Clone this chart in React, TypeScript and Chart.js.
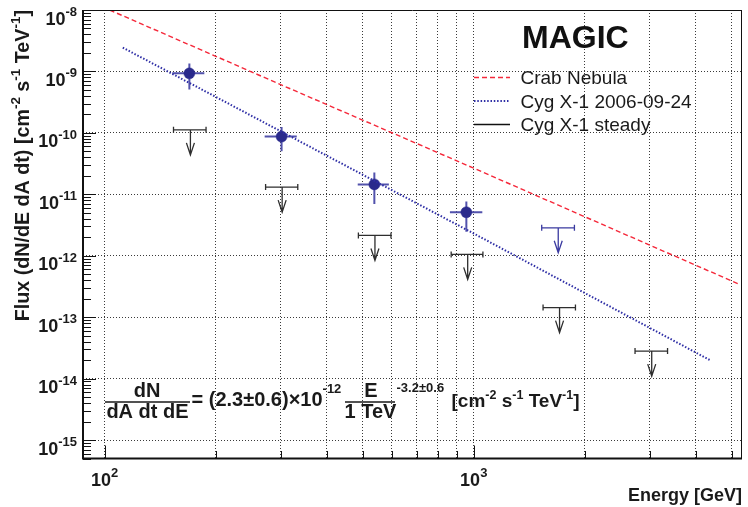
import React, { useEffect, useRef } from 'react';
import { Chart, registerables } from 'chart.js';

Chart.register(...registerables);

const FONT = '"Liberation Sans", Arial, Helvetica, sans-serif';

// Axis ranges (GeV, cm^-2 s^-1 TeV^-1)
const X_MIN = 87.4;
const X_MAX = 5330;
const Y_MIN = 5.0e-16;
const Y_MAX = 1e-8;

// Tick values / labels
const xTickValues = [100, 200, 300, 400, 500, 600, 700, 800, 900, 1000, 2000, 3000, 4000, 5000];
const xLabelValues = [100, 1000];
const xLabelExponents = ['2', '3'];
const yDecadeExponents = [-16, -15, -14, -13, -12, -11, -10, -9, -8];
const yMinorMultipliers = [1, 2, 3, 4, 5, 6, 7, 8, 9];
const yLabelValues = [1e-15, 1e-14, 1e-13, 1e-12, 1e-11, 1e-10, 1e-9, 1e-8];
const yLabelExponents = ['-15', '-14', '-13', '-12', '-11', '-10', '-9', '-8'];

// Crab Nebula reference spectrum (red dashed)
const crabE = [90, 300, 1000, 5200];
const crabFlux = [1.43e-8, 6.1e-10, 2.66e-11, 3.5e-13];

// Cyg X-1 2006-09-24 power-law fit (blue dotted)
const fitE = [112, 1000, 4375];
const fitFlux = [2.44e-9, 2.3e-12, 1.98e-14];

// Cyg X-1 2006-09-24 measured points
const flareE = [169.7, 301.6, 538, 955];
const flareFlux = [9.3e-10, 8.7e-11, 1.45e-11, 5.1e-12];
const flareELow = [152.5, 271.4, 485, 862];
const flareEHigh = [186.3, 331.6, 589, 1055];
const flareFluxLow = [5.1e-10, 5.0e-11, 6.97e-12, 2.45e-12];
const flareFluxHigh = [1.35e-9, 1.24e-10, 2.27e-11, 7.6e-12];

// Cyg X-1 2006-09-24 upper limit
const flareUlE = [1694];
const flareUlFlux = [2.85e-12];
const flareUlELow = [1528];
const flareUlEHigh = [1874];

// Cyg X-1 steady upper limits
const steadyE = [170.8, 302.7, 540, 963, 1708, 3035];
const steadyFlux = [1.12e-10, 1.31e-11, 2.14e-12, 1.05e-12, 1.43e-13, 2.8e-14];
const steadyELow = [153.7, 273, 487, 868.7, 1541, 2735];
const steadyEHigh = [188.3, 333.7, 596.7, 1059, 1886, 3350];

// Legend
const legendLabels = ['Crab Nebula', 'Cyg X-1 2006-09-24', 'Cyg X-1 steady'];

const RED = '#f5283a';
const BLUE_LINE = '#2f2fa6';
const BLUE_DOT = '#2a2a8c';
const BLUE_BAR = '#5252ac';
const BLUE_UL = '#3a3aa0';
const BLACK_UL = '#2e2e2e';
const GRID = '#3a3a3a';

const isDecade = (v: number) => {
  if (!(v > 0)) return false;
  const l = Math.log10(v);
  return Math.abs(l - Math.round(l)) < 1e-6;
};

type Part = { t: string; sup?: boolean };

function richWidth(ctx: CanvasRenderingContext2D, parts: Part[], base: number, sup: number) {
  let w = 0;
  for (const p of parts) {
    ctx.font = `bold ${p.sup ? sup : base}px ${FONT}`;
    w += ctx.measureText(p.t).width;
  }
  return w;
}

function drawRich(
  ctx: CanvasRenderingContext2D,
  parts: Part[],
  x: number,
  y: number,
  base: number,
  sup: number,
  rise: number
) {
  let cx = x;
  ctx.textAlign = 'left';
  ctx.textBaseline = 'alphabetic';
  for (const p of parts) {
    ctx.font = `bold ${p.sup ? sup : base}px ${FONT}`;
    ctx.fillText(p.t, cx, p.sup ? y - rise : y);
    cx += ctx.measureText(p.t).width;
  }
  return cx;
}

function drawUL(
  ctx: CanvasRenderingContext2D,
  xs: any,
  ys: any,
  e: number,
  el: number,
  eh: number,
  f: number,
  color: string
) {
  const px = xs.getPixelForValue(e);
  const py = ys.getPixelForValue(f);
  const pl = xs.getPixelForValue(el);
  const pr = xs.getPixelForValue(eh);
  const len = 25;
  ctx.save();
  ctx.strokeStyle = color;
  ctx.lineWidth = 1.3;
  ctx.setLineDash([]);
  ctx.beginPath();
  ctx.moveTo(pl, py);
  ctx.lineTo(pr, py);
  ctx.moveTo(pl, py - 3);
  ctx.lineTo(pl, py + 3);
  ctx.moveTo(pr, py - 3);
  ctx.lineTo(pr, py + 3);
  ctx.moveTo(px, py);
  ctx.lineTo(px, py + len);
  ctx.moveTo(px - 4, py + len - 12);
  ctx.lineTo(px, py + len);
  ctx.lineTo(px + 4, py + len - 12);
  ctx.stroke();
  ctx.restore();
}

const magicPlugin = {
  id: 'magicDecor',
  beforeDatasetsDraw(chart: any) {
    const { ctx, scales } = chart;
    const xs = scales.x;
    const ys = scales.y;
    ctx.save();
    ctx.strokeStyle = BLUE_BAR;
    ctx.lineWidth = 2;
    ctx.setLineDash([]);
    for (let i = 0; i < flareE.length; i++) {
      const px = xs.getPixelForValue(flareE[i]);
      const py = ys.getPixelForValue(flareFlux[i]);
      ctx.beginPath();
      ctx.moveTo(xs.getPixelForValue(flareELow[i]), py);
      ctx.lineTo(xs.getPixelForValue(flareEHigh[i]), py);
      ctx.moveTo(px, ys.getPixelForValue(flareFluxHigh[i]));
      ctx.lineTo(px, ys.getPixelForValue(flareFluxLow[i]));
      ctx.stroke();
    }
    ctx.restore();
  },
  afterDatasetsDraw(chart: any) {
    const { ctx, scales } = chart;
    const xs = scales.x;
    const ys = scales.y;
    for (let i = 0; i < steadyE.length; i++) {
      drawUL(ctx, xs, ys, steadyE[i], steadyELow[i], steadyEHigh[i], steadyFlux[i], BLACK_UL);
    }
    for (let i = 0; i < flareUlE.length; i++) {
      drawUL(ctx, xs, ys, flareUlE[i], flareUlELow[i], flareUlEHigh[i], flareUlFlux[i], BLUE_UL);
    }
  },
  afterDraw(chart: any) {
    const { ctx, scales, chartArea } = chart;
    const xs = scales.x;
    const ys = scales.y;
    const { left, right, top, bottom } = chartArea;
    ctx.save();
    ctx.setLineDash([]);
    ctx.fillStyle = '#1a1a1a';
    ctx.strokeStyle = '#111';

    // frame
    ctx.lineWidth = 1;
    ctx.beginPath();
    ctx.moveTo(left, top + 0.5);
    ctx.lineTo(right, top + 0.5);
    ctx.moveTo(right - 0.5, top);
    ctx.lineTo(right - 0.5, bottom);
    ctx.stroke();
    ctx.lineWidth = 2;
    ctx.beginPath();
    ctx.moveTo(left, top);
    ctx.lineTo(left, bottom);
    ctx.lineTo(right, bottom);
    ctx.stroke();

    // y tick marks (inside, from left)
    ctx.lineWidth = 1;
    ctx.beginPath();
    for (const t of ys.ticks) {
      const v = t.value;
      if (v < Y_MIN || v > Y_MAX) continue;
      const py = Math.round(ys.getPixelForValue(v)) + 0.5;
      const len = isDecade(v) ? 13 : 8;
      ctx.moveTo(left, py);
      ctx.lineTo(left + len, py);
    }
    // x tick marks (inside, from bottom)
    for (const t of xs.ticks) {
      const v = t.value;
      const px = Math.round(xs.getPixelForValue(v)) + 0.5;
      const len = isDecade(v) ? 13 : 7.5;
      ctx.moveTo(px, bottom);
      ctx.lineTo(px, bottom - len);
    }
    ctx.stroke();

    // y tick labels
    for (let i = 0; i < yLabelValues.length; i++) {
      const py = ys.getPixelForValue(yLabelValues[i]);
      const parts: Part[] = [{ t: '10' }, { t: yLabelExponents[i], sup: true }];
      const w = richWidth(ctx, parts, 18, 13);
      drawRich(ctx, parts, left - 6 - w, py + 14.5, 18, 13, 8.5);
    }
    // x tick labels
    for (let i = 0; i < xLabelValues.length; i++) {
      const px = xs.getPixelForValue(xLabelValues[i]);
      const parts: Part[] = [{ t: '10' }, { t: xLabelExponents[i], sup: true }];
      const w = richWidth(ctx, parts, 18, 13);
      drawRich(ctx, parts, px - w / 2, bottom + 27, 18, 13, 9);
    }

    // x axis title
    ctx.font = `bold 18px ${FONT}`;
    ctx.textAlign = 'right';
    ctx.fillText('Energy [GeV]', right, 501);

    // y axis title (rotated, aligned to top of frame)
    const yTitle: Part[] = [
      { t: 'Flux (dN/dE dA dt) [cm' },
      { t: '-2', sup: true },
      { t: ' s' },
      { t: '-1', sup: true },
      { t: ' TeV' },
      { t: '-1', sup: true },
      { t: ']' },
    ];
    const tw = richWidth(ctx, yTitle, 19.7, 13.5);
    ctx.save();
    ctx.translate(28.5, top);
    ctx.rotate(-Math.PI / 2);
    drawRich(ctx, yTitle, -tw, 0, 19.7, 13.5, 8.5);
    ctx.restore();

    // MAGIC label
    ctx.font = `bold 32px ${FONT}`;
    ctx.textAlign = 'left';
    ctx.fillStyle = '#111';
    ctx.fillText('MAGIC', 522, 48);

    // legend
    const rows = [84, 107.5, 131];
    const styles = [
      { color: RED, dash: [5, 3], width: 1.3 },
      { color: BLUE_LINE, dash: [1.5, 1.8], width: 2 },
      { color: '#111', dash: [], width: 1.3 },
    ];
    for (let i = 0; i < legendLabels.length; i++) {
      const yb = rows[i];
      ctx.save();
      ctx.strokeStyle = styles[i].color;
      ctx.lineWidth = styles[i].width;
      ctx.setLineDash(styles[i].dash);
      ctx.beginPath();
      ctx.moveTo(474, yb - 6.5);
      ctx.lineTo(510, yb - 6.5);
      ctx.stroke();
      ctx.restore();
      ctx.font = `19px ${FONT}`;
      ctx.fillStyle = '#1a1a1a';
      ctx.textAlign = 'left';
      ctx.fillText(legendLabels[i], 520.5, yb);
    }

    // formula
    const F = 20;
    const S = 13;
    ctx.fillStyle = '#1a1a1a';
    ctx.strokeStyle = '#1a1a1a';
    ctx.font = `bold ${F}px ${FONT}`;
    ctx.textAlign = 'center';
    ctx.fillText('dN', 147, 397);
    ctx.fillText('dA dt dE', 147.5, 418);
    ctx.fillText('E', 371, 397);
    ctx.fillText('1 TeV', 370.5, 418);
    ctx.lineWidth = 1.6;
    ctx.beginPath();
    ctx.moveTo(105, 402);
    ctx.lineTo(190, 402);
    ctx.moveTo(345, 402);
    ctx.lineTo(395, 402);
    ctx.stroke();
    drawRich(
      ctx,
      [{ t: '= (2.3\u00b10.6)\u00d710' }, { t: '-12', sup: true }],
      191.5,
      406,
      F,
      S,
      13
    );
    drawRich(ctx, [{ t: '-3.2\u00b10.6', sup: true }], 396.5, 405, F, S, 13);
    drawRich(
      ctx,
      [
        { t: '[cm' },
        { t: '-2', sup: true },
        { t: ' s' },
        { t: '-1', sup: true },
        { t: ' TeV' },
        { t: '-1', sup: true },
        { t: ']' },
      ],
      451.5,
      407,
      19,
      12.5,
      8
    );
    ctx.restore();
  },
};

export default function App() {
  const canvasRef = useRef<HTMLCanvasElement | null>(null);

  useEffect(() => {
    const canvas = canvasRef.current;
    if (!canvas) return;

    const yTickValues: number[] = [];
    for (const ex of yDecadeExponents) {
      for (const m of yMinorMultipliers) {
        const v = Number((m * Math.pow(10, ex)).toPrecision(6));
        if (v >= Y_MIN && v <= Y_MAX) yTickValues.push(v);
      }
    }

    const chart = new Chart(canvas, {
      type: 'scatter',
      data: {
        datasets: [
          {
            label: 'Crab Nebula',
            data: crabE.map((e, i) => ({ x: e, y: crabFlux[i] })),
            showLine: true,
            borderColor: RED,
            borderDash: [5, 3],
            borderWidth: 1.4,
            pointRadius: 0,
            fill: false,
          },
          {
            label: 'Cyg X-1 2006-09-24 fit',
            data: fitE.map((e, i) => ({ x: e, y: fitFlux[i] })),
            showLine: true,
            borderColor: BLUE_LINE,
            borderDash: [1.5, 1.8],
            borderWidth: 2,
            pointRadius: 0,
            fill: false,
          },
          {
            label: 'Cyg X-1 2006-09-24',
            data: flareE.map((e, i) => ({ x: e, y: flareFlux[i] })),
            showLine: false,
            pointRadius: 5.5,
            pointBackgroundColor: BLUE_DOT,
            pointBorderColor: BLUE_DOT,
            pointBorderWidth: 0.5,
          },
          {
            label: 'Cyg X-1 2006-09-24 upper limit',
            data: flareUlE.map((e, i) => ({ x: e, y: flareUlFlux[i] })),
            showLine: false,
            pointRadius: 0,
          },
          {
            label: 'Cyg X-1 steady',
            data: steadyE.map((e, i) => ({ x: e, y: steadyFlux[i] })),
            showLine: false,
            pointRadius: 0,
          },
        ],
      },
      options: {
        responsive: false,
        animation: false,
        events: [],
        layout: { padding: { left: 83, right: 1.5, top: 10, bottom: 48.5 } },
        plugins: {
          legend: { display: false },
          tooltip: { enabled: false },
          title: { display: false },
        },
        scales: {
          x: {
            type: 'logarithmic',
            position: 'bottom',
            min: X_MIN,
            max: X_MAX,
            ticks: { display: false },
            grid: { color: GRID, lineWidth: 1, drawTicks: false },
            border: { display: false, dash: [1, 2] },
            afterBuildTicks: (s: any) => {
              s.ticks = xTickValues.map((v) => ({ value: v }));
            },
            afterFit: (s: any) => {
              s.height = 0;
            },
          },
          y: {
            type: 'logarithmic',
            position: 'left',
            min: Y_MIN,
            max: Y_MAX,
            ticks: { display: false },
            grid: {
              color: (c: any) => (c.tick && isDecade(c.tick.value) ? GRID : 'rgba(0,0,0,0)'),
              lineWidth: 1,
              drawTicks: false,
            },
            border: { display: false, dash: [1, 2] },
            afterBuildTicks: (s: any) => {
              s.ticks = yTickValues.map((v) => ({ value: v }));
            },
            afterFit: (s: any) => {
              s.width = 0;
            },
          },
        },
      } as any,
      plugins: [magicPlugin],
    });

    return () => {
      chart.destroy();
    };
  }, []);

  return (
    <div style={{ position: 'fixed', left: 0, top: 0, width: 748, height: 507, background: '#fff' }}>
      <canvas ref={canvasRef} width={748} height={507} style={{ display: 'block' }} />
    </div>
  );
}
